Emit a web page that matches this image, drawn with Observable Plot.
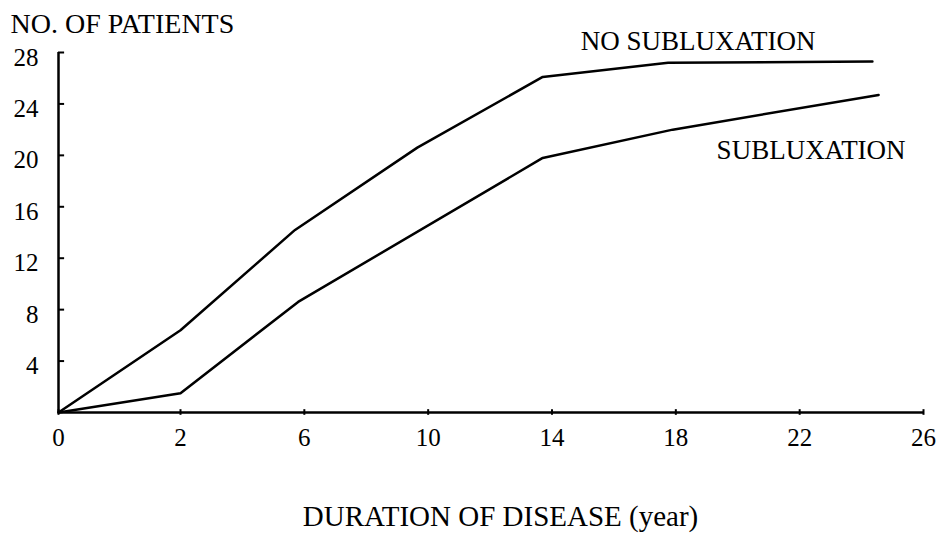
<!DOCTYPE html>
<html><head><meta charset="utf-8">
<script src="https://cdn.jsdelivr.net/npm/d3@7"></script>
<script src="https://cdn.jsdelivr.net/npm/@observablehq/plot@0.6"></script>
<style>body{margin:0;background:#fff}</style>
</head><body><div id="chart"></div>
<script>
// Data
const noSubYears    = [0, 2, 5.7, 9.65, 13.7, 17.75, 24.35];
const noSubPatients = [0, 6.4, 14.2, 20.6, 26.1, 27.2, 27.3];
const subYears      = [0, 2, 5.8, 13.7, 17.9, 24.55];
const subPatients   = [0, 1.5, 8.6, 19.8, 22.0, 24.7];
const seriesNames   = ["NO SUBLUXATION", "SUBLUXATION"];
const xTicks = [0, 2, 6, 10, 14, 18, 22, 26];
const yTicks = [4, 8, 12, 16, 20, 24, 28];
const yTitle = "NO. OF PATIENTS";
const xTitle = "DURATION OF DISEASE (year)";

const noSubRows = noSubYears.map((y, i) => ({year: y, patients: noSubPatients[i], series: seriesNames[0]}));
const subRows = subYears.map((y, i) => ({year: y, patients: subPatients[i], series: seriesNames[1]}));
const rows = noSubRows.concat(subRows);

const font = "Liberation Serif, Times New Roman, serif";

const chart = Plot.plot({
  width: 936, height: 546,
  marginLeft: 58, marginRight: 13, marginTop: 52, marginBottom: 134,
  style: {fontFamily: font, fontSize: "25px", color: "#000", background: "#fff", overflow: "visible"},
  x: {type: "linear", domain: [0, 2, 26], range: [58, 180, 923]},
  y: {domain: [0, 28], range: [412, 52]},
  marks: [
    Plot.ruleY([0], {x1: 0, x2: 26, stroke: "#000", strokeWidth: 2.5}),
    Plot.ruleX([0], {y1: 0, y2: 28, stroke: "#000", strokeWidth: 2.5}),
    Plot.ruleY(yTicks, {y: d => d, x1: 0, x2: 0.1, stroke: "#000", strokeWidth: 2}),
    Plot.ruleX(xTicks, {x: d => d, y1: -0.22, y2: 0.22, stroke: "#000", strokeWidth: 2}),
    Plot.axisX({ticks: xTicks, tickSize: 0, tickPadding: 16, label: null, fontSize: 25, fontFamily: font, tickFormat: d => String(d)}),
    Plot.axisY({ticks: yTicks, tickSize: 0, tickPadding: 20, label: null, fontSize: 25, fontFamily: font, dy: 5, tickFormat: d => String(d)}),
    Plot.line(rows, {x: "year", y: "patients", z: "series", stroke: "#000", strokeWidth: 2.5, strokeLinejoin: "round"}),
    Plot.text(noSubRows, Plot.selectLast({x: "year", y: "patients", text: "series", textAnchor: "end", lineAnchor: "middle", dx: -57, dy: -20, fontSize: 27, fontFamily: font, fill: "#000"})),
    Plot.text(subRows, Plot.selectLast({x: "year", y: "patients", text: "series", textAnchor: "end", lineAnchor: "middle", dx: 27, dy: 55, fontSize: 27, fontFamily: font, fill: "#000"})),
    Plot.text([yTitle], {text: d => d, frameAnchor: "top-left", textAnchor: "start", lineAnchor: "middle", dx: -48, dy: -28.5, fontSize: 28, fontFamily: font, fill: "#000"}),
    Plot.text([xTitle], {text: d => d, frameAnchor: "bottom", lineAnchor: "middle", dx: 9.5, dy: 104, fontSize: 29, fontFamily: font, fill: "#000"})
  ]
});
document.getElementById("chart").append(chart);
</script>
</body></html>
